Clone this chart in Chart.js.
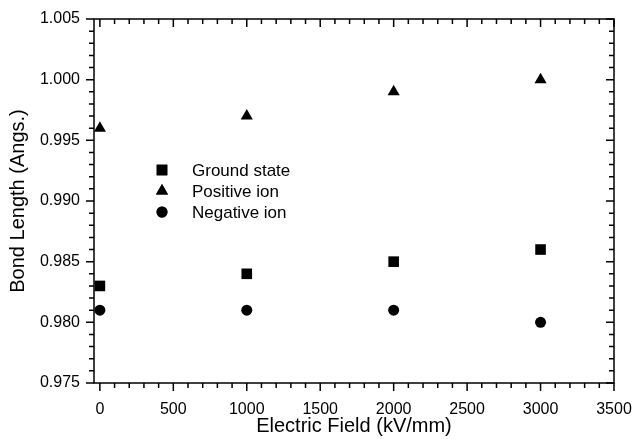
<!DOCTYPE html>
<html>
<head>
<meta charset="utf-8">
<script src="https://cdn.jsdelivr.net/npm/chart.js@4/dist/chart.umd.min.js"></script>
<style>
  html, body { margin: 0; padding: 0; background: #fff; }
  #wrap { width: 634px; height: 439px; }
</style>
</head>
<body>
<div id="wrap"><canvas id="chart"></canvas></div>
<script>
const fieldValues = [0, 1000, 2000, 3000];
const groundState = [0.983, 0.984, 0.985, 0.986];
const positiveIon = [0.996, 0.997, 0.999, 1.000];
const negativeIon = [0.981, 0.981, 0.981, 0.980];
const xTicks = [0, 500, 1000, 1500, 2000, 2500, 3000, 3500];
const yTicks = [0.975, 0.980, 0.985, 0.990, 0.995, 1.000, 1.005];

const FONT = "'Liberation Sans', Arial, sans-serif";

function toPoints(ys) {
  return fieldValues.map(function (x, i) { return { x: x, y: ys[i] }; });
}

// frame, inward/outward ticks and the inside legend
const framePlugin = {
  id: "frame",
  afterDraw: function (chart) {
    const ctx = chart.ctx;
    const a = chart.chartArea;
    const xs = chart.scales.x;
    const ys = chart.scales.y;
    ctx.save();
    ctx.strokeStyle = "#000";
    ctx.lineWidth = 1.5;
    ctx.strokeRect(a.left, a.top, a.right - a.left, a.bottom - a.top);
    ctx.beginPath();
    for (let v = 0; v <= 3500; v += 100) {
      const px = xs.getPixelForValue(v);
      const len = v % 500 === 0 ? 8 : 5;
      ctx.moveTo(px, a.bottom);
      ctx.lineTo(px, a.bottom + len);
      ctx.moveTo(px, a.top);
      ctx.lineTo(px, a.top + len);
    }
    for (let k = 0; k <= 30; k++) {
      const v = 0.975 + k * 0.001;
      const py = ys.getPixelForValue(v);
      const len = k % 5 === 0 ? 8 : 5;
      ctx.moveTo(a.left, py);
      ctx.lineTo(a.left - len, py);
      ctx.moveTo(a.right, py);
      ctx.lineTo(a.right - len, py);
    }
    ctx.stroke();

    // legend
    ctx.font = "17px " + FONT;
    ctx.textBaseline = "middle";
    chart.data.datasets.forEach(function (ds, i) {
      const cy = 170 + i * 21;
      ctx.fillStyle = "#000";
      Chart.helpers.drawPoint(ctx, {
        pointStyle: ds.pointStyle,
        radius: ds.pointRadius,
        rotation: 0,
        borderWidth: 0
      }, 162, cy);
      ctx.fill();
      ctx.fillText(ds.label, 192, cy + 1);
    });
    ctx.restore();
  }
};

new Chart(document.getElementById("chart"), {
  type: "scatter",
  data: {
    datasets: [
      {
        label: "Ground state",
        data: toPoints(groundState),
        pointStyle: "rect",
        pointRadius: 7.5,
        backgroundColor: "#000",
        borderColor: "#000",
        borderWidth: 0
      },
      {
        label: "Positive ion",
        data: toPoints(positiveIon),
        pointStyle: "triangle",
        pointRadius: 7,
        backgroundColor: "#000",
        borderColor: "#000",
        borderWidth: 0
      },
      {
        label: "Negative ion",
        data: toPoints(negativeIon),
        pointStyle: "circle",
        pointRadius: 5.5,
        backgroundColor: "#000",
        borderColor: "#000",
        borderWidth: 0
      }
    ]
  },
  options: {
    responsive: true,
    maintainAspectRatio: false,
    animation: false,
    layout: { padding: { top: 19, right: 20, left: 0, bottom: 0 } },
    plugins: {
      legend: { display: false },
      tooltip: { enabled: false }
    },
    scales: {
      x: {
        type: "linear",
        min: -40,
        max: 3500,
        afterBuildTicks: function (scale) {
          scale.ticks = xTicks.map(function (v) { return { value: v }; });
        },
        afterFit: function (scale) {
          scale.height = 56;
          scale.paddingLeft = 0;
          scale.paddingRight = 0;
        },
        grid: { display: false, drawTicks: false },
        border: { display: false },
        ticks: {
          color: "#000",
          padding: 17,
          maxRotation: 0,
          font: { family: FONT, size: 16 },
          callback: function (v) { return String(v); }
        },
        title: {
          display: true,
          text: "Electric Field (kV/mm)",
          color: "#000",
          padding: { top: 0, bottom: 1 },
          font: { family: FONT, size: 20 }
        }
      },
      y: {
        type: "linear",
        min: 0.975,
        max: 1.005,
        afterBuildTicks: function (scale) {
          scale.ticks = yTicks.map(function (v) { return { value: v }; });
        },
        afterFit: function (scale) {
          scale.width = 94;
          scale.paddingTop = 0;
          scale.paddingBottom = 0;
        },
        grid: { display: false, drawTicks: false },
        border: { display: false },
        ticks: {
          color: "#000",
          padding: 14,
          font: { family: FONT, size: 16 },
          callback: function (v) { return v.toFixed(3); }
        },
        title: {
          display: true,
          text: "Bond Length (Angs.)",
          color: "#000",
          padding: { top: 6, bottom: 0 },
          font: { family: FONT, size: 20 }
        }
      }
    }
  },
  plugins: [framePlugin]
});
</script>
</body>
</html>
